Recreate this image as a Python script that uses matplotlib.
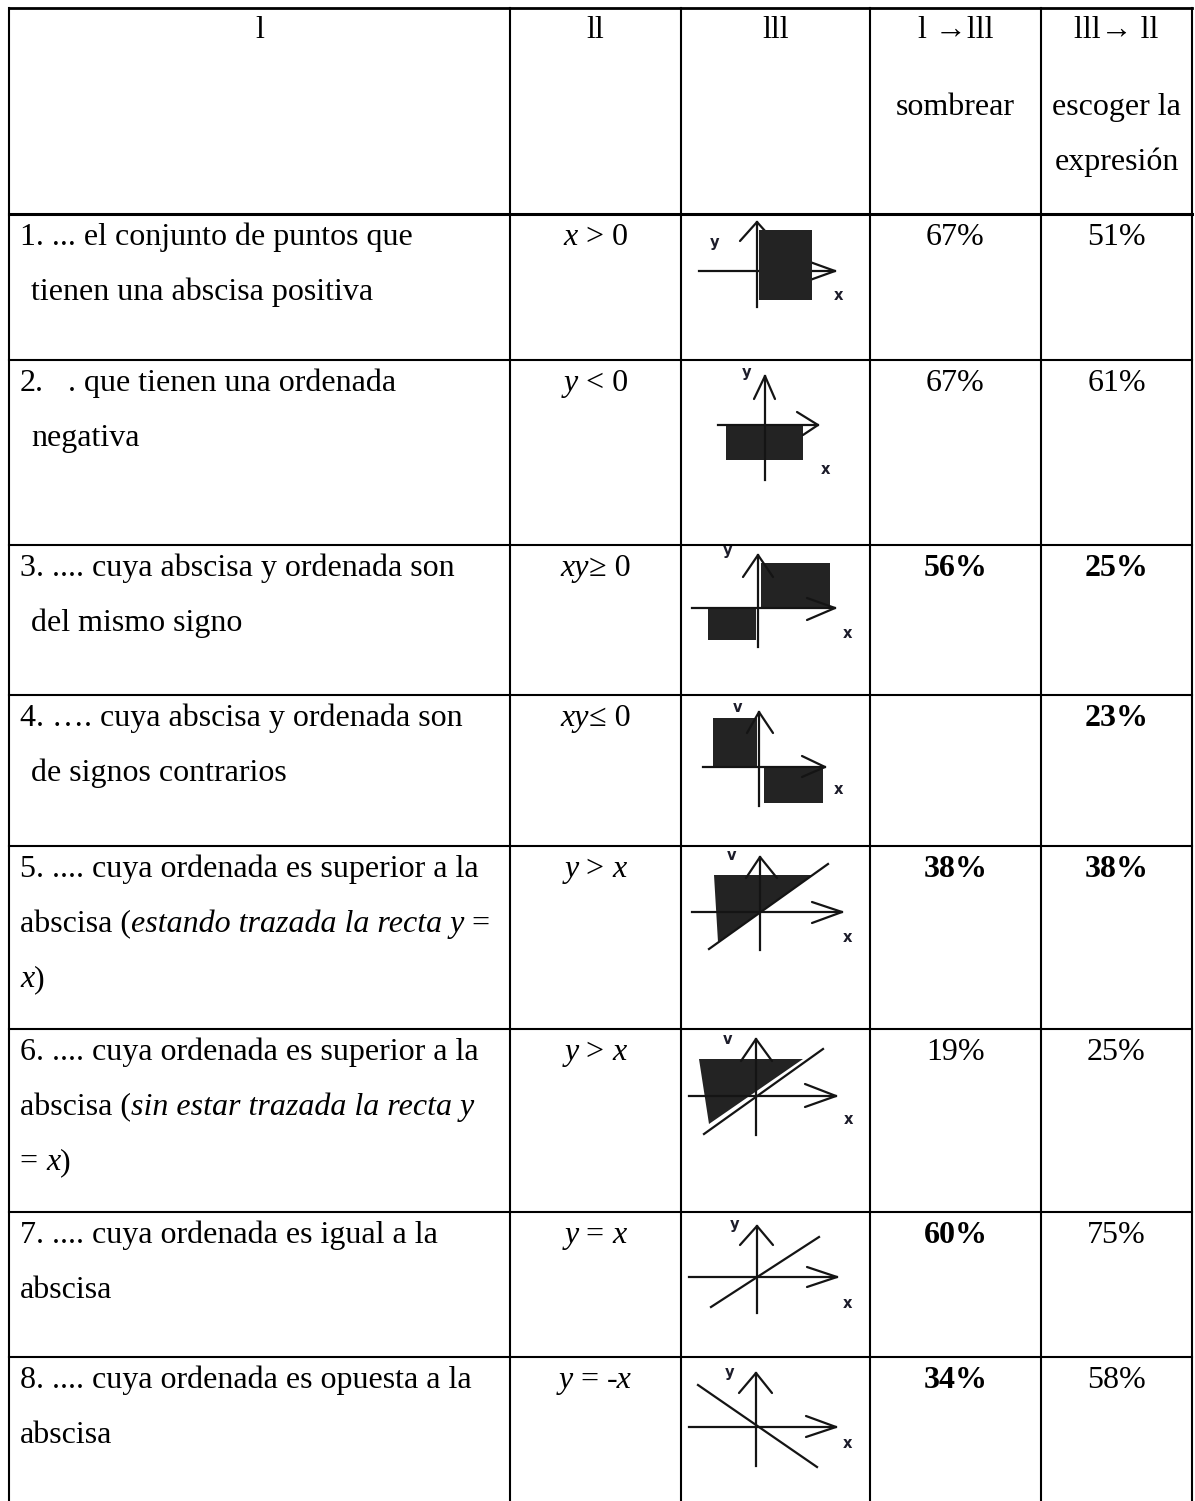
import matplotlib
matplotlib.use("Agg")
from matplotlib import pyplot as plt
from matplotlib.patches import Polygon

# Table content
header_lines = [
    ["l"],
    ["ll"],
    ["lll"],
    ["l \u2192lll", "sombrear"],
    ["lll\u2192 ll", "escoger la", "expresi\u00f3n"],
]

R, I = "normal", "italic"

descriptions = [
    [(20, 0, [("1. ... el conjunto de puntos que", R)]),
     (31, 1, [("tienen una abscisa positiva", R)])],
    [(20, 0, [("2.", R)]), (68, 0, [(". que tienen una ordenada", R)]),
     (31, 1, [("negativa", R)])],
    [(20, 0, [("3. .... cuya abscisa y ordenada son", R)]),
     (31, 1, [("del mismo signo", R)])],
    [(20, 0, [("4. \u2026. cuya abscisa y ordenada son", R)]),
     (31, 1, [("de signos contrarios", R)])],
    [(20, 0, [("5. .... cuya ordenada es superior a la", R)]),
     (20, 1, [("abscisa (", R), ("estando trazada la recta y", I), (" =", R)]),
     (20, 2, [("x", I), (")", R)])],
    [(20, 0, [("6. .... cuya ordenada es superior a la", R)]),
     (20, 1, [("abscisa (", R), ("sin estar trazada la recta y", I)]),
     (20, 2, [("= ", R), ("x", I), (")", R)])],
    [(20, 0, [("7. .... cuya ordenada es igual a la", R)]),
     (20, 1, [("abscisa", R)])],
    [(20, 0, [("8. .... cuya ordenada es opuesta a la", R)]),
     (20, 1, [("abscisa", R)])],
]

expressions = [
    [("x", I), (" > 0", R)],
    [("y", I), (" < 0", R)],
    [("xy", I), ("\u2265 0", R)],
    [("xy", I), ("\u2264 0", R)],
    [("y", I), (" > ", R), ("x", I)],
    [("y", I), (" > ", R), ("x", I)],
    [("y", I), (" = ", R), ("x", I)],
    [("y", I), (" = ", R), ("-x", I)],
]

pct_sombrear = ["67%", "67%", "56%", "", "38%", "19%", "60%", "34%"]
bold_sombrear = [False, False, True, False, True, False, True, True]
pct_escoger = ["51%", "61%", "25%", "23%", "38%", "25%", "75%", "58%"]
bold_escoger = [False, False, True, True, True, False, False, False]

# Sketches in column lll (offsets from the axes origin, y up)
icons = [
    dict(o=(757, 271), h=(-58, 78), xw=[(53, 9), (53, -9)], v=(49, -36),
         yw=[(-17, 30), (17, 30)], polys=[[(2, 41), (55, 41), (55, -29), (2, -29)]],
         poly_top=True, diag=None, ly=(-42, 28, "y"), lx=(81, -24)),
    dict(o=(765, 425), h=(-47, 53), xw=[(32, 13), (38, -10)], v=(49, -55),
         yw=[(-11, 26), (10, 26)], polys=[[(-39, 0), (38, 0), (38, -35), (-39, -35)]],
         poly_top=False, diag=None, ly=(-18, 52, "y"), lx=(60, -45)),
    dict(o=(758, 608), h=(-66, 77), xw=[(49, 10), (49, -12)], v=(53, -39),
         yw=[(-15, 31), (15, 31)],
         polys=[[(3, 45), (72, 45), (72, 1), (3, 1)], [(-50, -1), (-2, -1), (-2, -32), (-50, -32)]],
         poly_top=False, diag=None, ly=(-30, 58, "y"), lx=(89, -25)),
    dict(o=(759, 767), h=(-56, 66), xw=[(43, 11), (43, -10)], v=(55, -39),
         yw=[(-12, 34), (14, 34)],
         polys=[[(-46, 49), (-2, 49), (-2, 1), (-46, 1)], [(5, 0), (64, 0), (64, -36), (5, -36)]],
         poly_top=False, diag=None, ly=(-21, 59, "v"), lx=(79, -23)),
    dict(o=(760, 912), h=(-68, 82), xw=[(52, 10), (52, -11)], v=(55, -38),
         yw=[(-14, 34), (17, 34)], polys=[[(-46, 37), (53, 37), (-42, -30)]],
         poly_top=False, diag=((-51, -37), (68, 48)), ly=(-28, 57, "v"), lx=(87, -25)),
    dict(o=(756, 1096), h=(-67, 80), xw=[(49, 12), (49, -11)], v=(57, -39),
         yw=[(-15, 35), (16, 35)], polys=[[(-57, 37), (47, 37), (-47, -28)]],
         poly_top=False, diag=((-52, -38), (67, 47)), ly=(-28, 57, "v"), lx=(92, -24)),
    dict(o=(757, 1277), h=(-68, 80), xw=[(50, 10), (50, -10)], v=(51, -36),
         yw=[(-17, 32), (16, 32)], polys=[], poly_top=False,
         diag=((-46, -30), (62, 40)), ly=(-22, 52, "y"), lx=(90, -26)),
    dict(o=(756, 1427), h=(-67, 80), xw=[(50, 11), (50, -10)], v=(54, -39),
         yw=[(-17, 34), (16, 34)], polys=[], poly_top=False,
         diag=((-58, 42), (61, -40)), ly=(-26, 55, "y"), lx=(91, -16)),
]

# Layout
col_x = [9, 510, 681, 870, 1041, 1192]
top_y = 8
row_tops = [214, 360, 545, 695, 846, 1029, 1212, 1357]
bottom_y = 1501
header_base = [38, 115, 170]
line_gap = 55
base_off = 31

FONT = "Liberation Serif"
FS = 23

fig = plt.figure(figsize=(11.95, 15.01), dpi=100)
ax = fig.add_axes([0, 0, 1, 1])
ax.set_xlim(0, 1195)
ax.set_ylim(1501, 0)
ax.axis("off")
renderer = fig.canvas.get_renderer()


def text_width(s, style, weight="normal"):
    # measure with bars around so spaces count
    t1 = ax.text(0, 0, "|" + s + "|", family=FONT, fontsize=FS, style=style, weight=weight)
    t2 = ax.text(0, 0, "||", family=FONT, fontsize=FS, style=style, weight=weight)
    w = t1.get_window_extent(renderer).width - t2.get_window_extent(renderer).width
    t1.remove()
    t2.remove()
    return w


def draw_runs(x, y, runs, center=False):
    widths = [text_width(s, st) for s, st in runs]
    if center:
        x = x - sum(widths) / 2
    for (s, st), w in zip(runs, widths):
        ax.text(x, y, s, family=FONT, fontsize=FS, style=st, ha="left", va="baseline", color="black")
        x += w


# Grid lines
lw = 1.5
ax.plot([col_x[0], col_x[-1]], [top_y, top_y], color="black", lw=2.0, solid_capstyle="projecting")
for i, ry in enumerate(row_tops):
    ax.plot([col_x[0], col_x[-1]], [ry, ry], color="black", lw=2.2 if i == 0 else lw,
            solid_capstyle="projecting")
for cx in col_x:
    ax.plot([cx, cx], [top_y, bottom_y], color="black", lw=lw, solid_capstyle="projecting")

# Header
for c, lines in enumerate(header_lines):
    cx = (col_x[c] + col_x[c + 1]) / 2
    for k, s in enumerate(lines):
        ax.text(cx, header_base[k], s, family=FONT, fontsize=FS, ha="center", va="baseline")

# Body rows
for r, ry in enumerate(row_tops):
    base = ry + base_off
    for x, k, runs in descriptions[r]:
        draw_runs(x, base + k * line_gap, runs)
    draw_runs((col_x[1] + col_x[2]) / 2, base, expressions[r], center=True)
    for c, vals, bolds in ((3, pct_sombrear, bold_sombrear), (4, pct_escoger, bold_escoger)):
        if vals[r]:
            ax.text((col_x[c] + col_x[c + 1]) / 2, base, vals[r], family=FONT, fontsize=FS,
                    weight="bold" if bolds[r] else "normal", ha="center", va="baseline")

# Sketches
ink = "#141414"
fill = "#232323"
for ic in icons:
    ox, oy = ic["o"]

    def P(d):
        return (ox + d[0], oy - d[1])

    pz = 5 if ic["poly_top"] else 2
    for poly in ic["polys"]:
        ax.add_patch(Polygon([P(p) for p in poly], closed=True, facecolor=fill,
                             edgecolor="none", zorder=pz))
    ax.plot([ox + ic["h"][0], ox + ic["h"][1]], [oy, oy], color=ink, lw=1.6, zorder=3)
    ax.plot([ox, ox], [oy - ic["v"][0], oy - ic["v"][1]], color=ink, lw=1.6, zorder=3)
    tip_x = P((ic["h"][1], 0))
    for w in ic["xw"]:
        a = P(w)
        ax.plot([a[0], tip_x[0]], [a[1], tip_x[1]], color=ink, lw=1.6, zorder=3,
                solid_capstyle="round")
    tip_y = P((0, ic["v"][0]))
    for w in ic["yw"]:
        a = P(w)
        ax.plot([a[0], tip_y[0]], [a[1], tip_y[1]], color=ink, lw=1.6, zorder=3,
                solid_capstyle="round")
    if ic["diag"]:
        a, b = P(ic["diag"][0]), P(ic["diag"][1])
        ax.plot([a[0], b[0]], [a[1], b[1]], color=ink, lw=1.6, zorder=4)
    lyx, lyy, lys = ic["ly"]
    ax.text(ox + lyx, oy - lyy, lys, family="DejaVu Sans", fontsize=10.5, weight="bold",
            color="#1c1c2a", ha="center", va="center", zorder=6)
    ax.text(ox + ic["lx"][0], oy - ic["lx"][1], "x", family="DejaVu Sans", fontsize=10.5,
            weight="bold", color="#1c1c2a", ha="center", va="center", zorder=6)

fig.savefig("out.png", dpi=100)
